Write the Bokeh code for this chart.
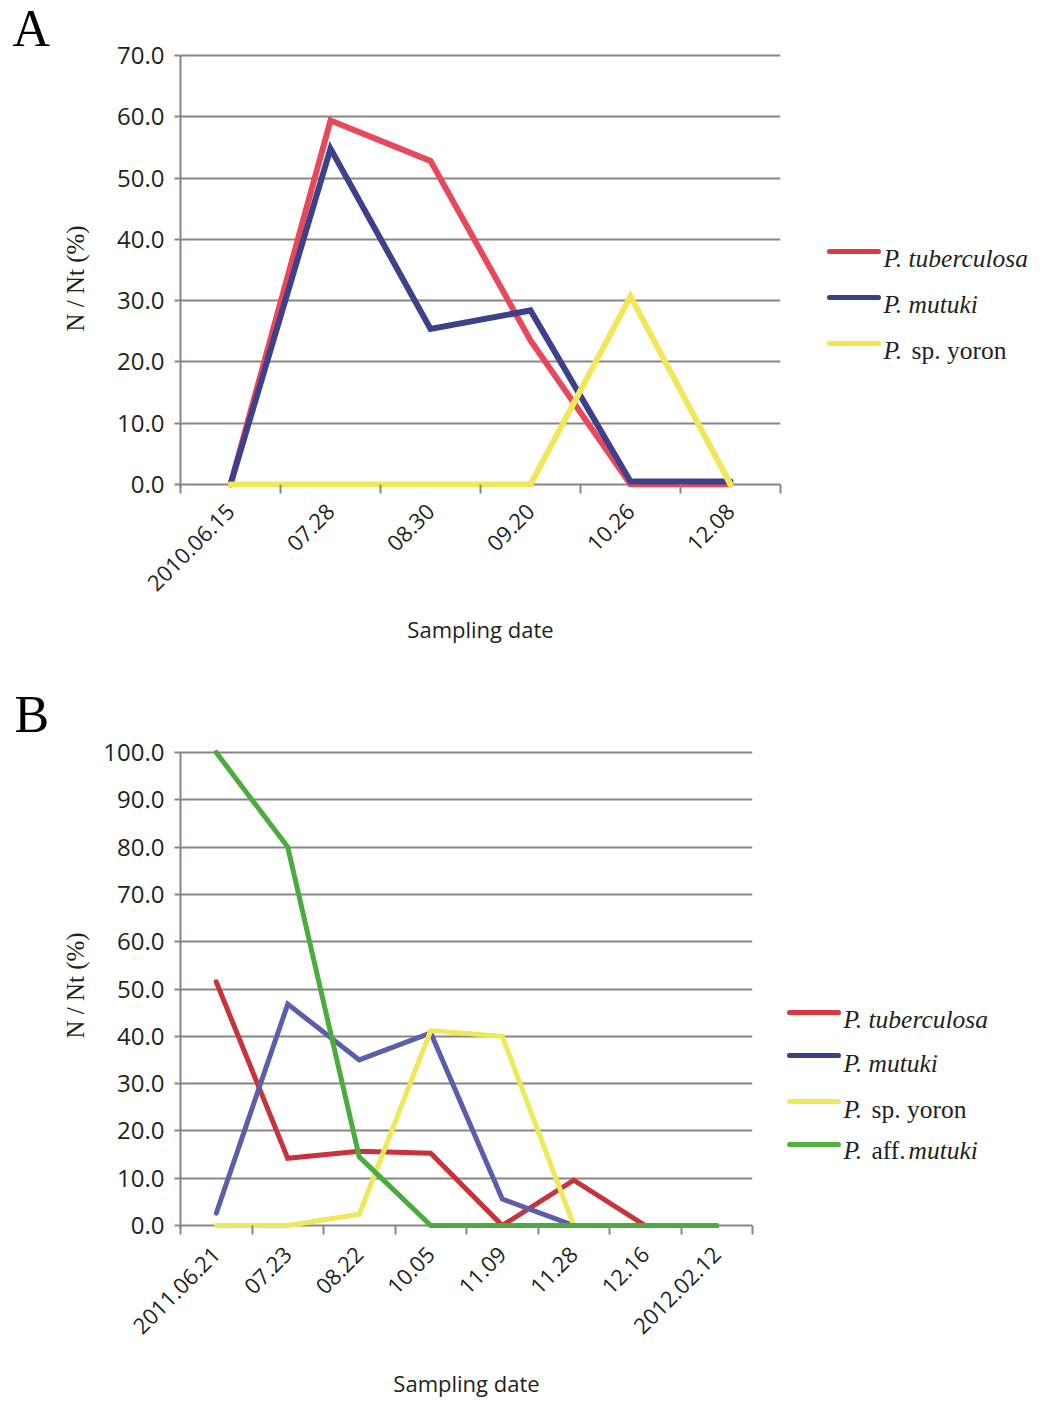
import math
from bokeh.plotting import figure
from bokeh.models import Range1d, FixedTicker, NumeralTickFormatter
from bokeh.layouts import row
from bokeh.core.properties import value
from bokeh.embed import file_html
from bokeh.resources import INLINE

# ---------------- data ----------------
a_dates = ["2010.06.15", "07.28", "08.30", "09.20", "10.26", "12.08"]
a_tuberculosa = [0, 59.4, 52.8, 23.5, 0, 0]
a_mutuki = [0, 54.8, 25.4, 28.4, 0.5, 0.5]
a_yoron = [0, 0, 0, 0, 30.7, 0]

b_dates = ["2011.06.21", "07.23", "08.22", "10.05", "11.09", "11.28", "12.16", "2012.02.12"]
b_tuberculosa = [51.5, 14.2, 15.7, 15.3, 0, 9.6, 0, 0]
b_mutuki = [2.6, 46.8, 35.0, 40.7, 5.6, 0, 0, 0]
b_yoron = [0, 0, 2.4, 41.2, 40.0, 0, 0, 0]
b_aff_mutuki = [100, 80.0, 14.5, 0, 0, 0, 0, 0]

# legend texts: (italic part, roman part, italic tail)
a_names = [("P. tuberculosa", "", ""), ("P. mutuki", "", ""), ("P.", "sp. yoron", "")]
b_names = [("P. tuberculosa", "", ""), ("P. mutuki", "", ""),
           ("P.", "sp. yoron", ""), ("P.", "aff.", "mutuki")]

Y_LABEL = "N / Nt (%)"
X_LABEL = "Sampling date"

GRID = "#8b8481"
TEXT = "#231f20"
SERIF = "Liberation Serif"
SANS = "Open Sans"
LEG_SIZE = "25.5px"


def blank(w, h, bt, bb, fh):
    f = figure(width=w, height=h, x_range=Range1d(0, w), y_range=Range1d(0, fh),
               x_axis_type=None, y_axis_type=None, output_backend="svg", toolbar_location=None,
               min_border_left=0, min_border_right=0, min_border_top=bt, min_border_bottom=bb)
    f.outline_line_color = None
    f.xgrid.visible = False
    f.ygrid.visible = False
    f.border_fill_color = "white"
    f.background_fill_color = "white"
    return f


def letter_fig(letter, w, h, bt, bb, pos, ylab_pos):
    f = blank(w, h, bt, bb, h - bt - bb)
    f.text(x=[pos[0]], y=[pos[1]], text=[letter], text_font=value(SERIF), text_font_size="52px",
           text_color="black", text_baseline="alphabetic", text_align="left")
    f.text(x=[ylab_pos[0]], y=[ylab_pos[1]], text=[Y_LABEL], angle=math.pi / 2,
           text_font=value(SERIF), text_font_size="25px", text_color=TEXT,
           text_baseline="middle", text_align="center")
    return f


def legend_fig(w, h, bt, bb, colors, names, line_x, text_x, line_y, text_y):
    f = blank(w, h, bt, bb, h - bt - bb)
    for c, nm, ly, ty in zip(colors, names, line_y, text_y):
        f.line(x=list(line_x), y=[ly, ly], line_color=c, line_width=5, line_cap="round")
        ital, rom, ital2 = nm
        f.text(x=[text_x], y=[ty], text=[ital], text_font=value(SERIF), text_font_style="italic",
               text_font_size=LEG_SIZE, text_color=TEXT, text_baseline="alphabetic", text_align="left")
        if rom:
            f.text(x=[text_x + 28], y=[ty], text=[rom], text_font=value(SERIF), text_font_style="normal",
                   text_font_size=LEG_SIZE, text_color=TEXT, text_baseline="alphabetic", text_align="left")
        if ital2:
            f.text(x=[text_x + 65], y=[ty], text=[ital2], text_font=value(SERIF), text_font_style="italic",
                   text_font_size=LEG_SIZE, text_color=TEXT, text_baseline="alphabetic", text_align="left")
    return f


def panel(dates, series, colors, ymax, ystep, w, h, bl, br, bt, bb, zero_px, top_px, lw,
          xlab_standoff, xlbl_standoff):
    # zero_px / top_px: distance (px) of the 0 line above the frame bottom and of the top
    # tick line below the frame top
    n = len(dates)
    fh = h - bt - bb
    scale = (fh - zero_px - top_px) / ymax
    y0 = -zero_px / scale
    y1 = ymax + top_px / scale
    p = figure(width=w, height=h, x_range=Range1d(0, n), y_range=Range1d(y0, y1),
               output_backend="svg", toolbar_location=None,
               min_border_left=bl, min_border_right=br, min_border_top=bt, min_border_bottom=bb)
    p.outline_line_color = None
    p.background_fill_color = "white"
    p.border_fill_color = "white"
    p.xgrid.visible = False
    yt = list(range(0, ymax + 1, ystep))
    p.ygrid.ticker = FixedTicker(ticks=yt)
    p.ygrid.grid_line_color = GRID
    p.ygrid.grid_line_width = 2

    centers = [i + 0.5 for i in range(n)]
    bounds = list(range(n + 1))

    ya = p.yaxis[0]
    ya.ticker = FixedTicker(ticks=yt, minor_ticks=[])
    ya.bounds = (y0, ymax)
    ya.formatter = NumeralTickFormatter(format="0.0")
    ya.axis_line_color = GRID
    ya.axis_line_width = 2
    ya.major_tick_line_color = GRID
    ya.major_tick_line_width = 2
    ya.major_tick_out = 6
    ya.major_tick_in = 0
    ya.minor_tick_line_color = None
    ya.major_label_text_font = SANS
    ya.major_label_text_font_size = "24px"
    ya.major_label_text_color = TEXT
    ya.major_label_standoff = 10

    xa = p.xaxis[0]
    xa.ticker = FixedTicker(ticks=centers, minor_ticks=bounds)
    xa.major_label_overrides = {c: d for c, d in zip(centers, dates)}
    xa.major_label_orientation = math.pi / 4
    xa.axis_line_color = None
    xa.major_tick_line_color = None
    xa.major_tick_out = 6
    xa.major_tick_in = 0
    xa.minor_tick_line_color = GRID
    xa.minor_tick_line_width = 2
    xa.minor_tick_in = 3
    xa.minor_tick_out = 6
    xa.major_label_text_font = SANS
    xa.major_label_text_font_size = "22px"
    xa.major_label_text_color = TEXT
    xa.major_label_standoff = xlbl_standoff
    xa.axis_label = X_LABEL
    xa.axis_label_text_font = SANS
    xa.axis_label_text_font_style = "normal"
    xa.axis_label_text_font_size = "22px"
    xa.axis_label_text_color = TEXT
    xa.axis_label_standoff = xlab_standoff

    for vals, c in zip(series, colors):
        p.line(centers, vals, line_color=c, line_width=lw, line_join="miter", line_cap="round")
    return p


# ---- panel A (figure top at page y 0) ----
HA, BTA, BBA = 660, 5, 173          # frame spans page y 5 .. 487
la = letter_fig("A", 95, HA, BTA, BBA, (12, 459), (75, 209))
pa = panel(a_dates, [a_tuberculosa, a_mutuki, a_yoron], ["#e8495a", "#3d418b", "#f0e85a"],
           70, 10, w=695, h=HA, bl=85, br=10, bt=BTA, bb=BBA, zero_px=3, top_px=50, lw=6,
           xlab_standoff=13, xlbl_standoff=14)
ga = legend_fig(255, HA, BTA, BBA, ["#dc3a42", "#3b3f8a", "#efe84a"], a_names,
                line_x=(39, 88), text_x=93, line_y=(236, 190, 144), text_y=(229, 183, 137))

# ---- panel B (figure top at page y 660) ----
HB, BTB, BBB = 742, 5, 174          # frame spans page y 665 .. 1228
lb = letter_fig("B", 95, HB, BTB, BBB, (14, 514), (75, 243))
pb = panel(b_dates, [b_tuberculosa, b_mutuki, b_yoron, b_aff_mutuki],
           ["#c8323a", "#5b5ea8", "#efe85a", "#4cab3e"],
           100, 10, w=667, h=HB, bl=85, br=10, bt=BTB, bb=BBB, zero_px=3, top_px=87, lw=5,
           xlab_standoff=24, xlbl_standoff=16)
gb = legend_fig(283, HB, BTB, BBB, ["#d63a3f", "#3c3f8d", "#efe85a", "#55ae42"], b_names,
                line_x=(27, 76), text_x=81, line_y=(216, 173, 127, 84), text_y=(209, 165, 119, 78))

open("out.html", "w").write(file_html([row(la, pa, ga), row(lb, pb, gb)], INLINE))
